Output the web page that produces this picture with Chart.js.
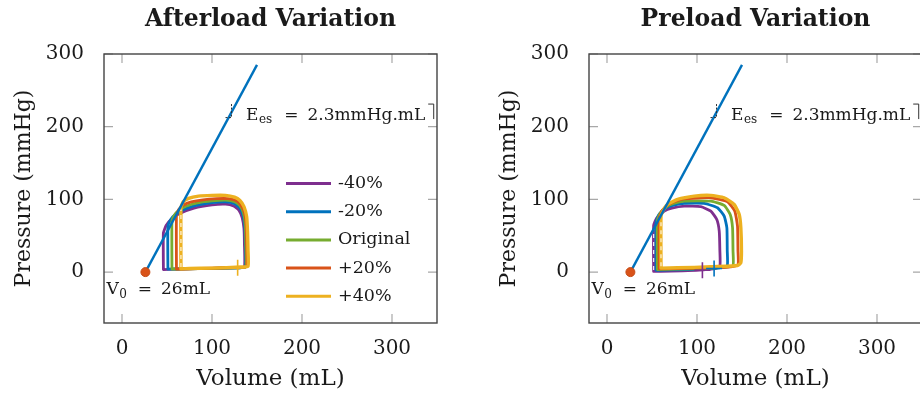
<!DOCTYPE html>
<html>
<head>
<meta charset="utf-8">
<script src="https://cdn.jsdelivr.net/npm/chart.js@4.4.1/dist/chart.umd.min.js"></script>
<style>
  html, body { margin: 0; padding: 0; overflow: hidden; background: #fff; }
  .panel { position: absolute; top: 0; width: 460px; height: 396px; }
</style>
</head>
<body>
<div class="panel" style="left:0"><canvas id="afterload"></canvas></div>
<div class="panel" style="left:485px"><canvas id="preload"></canvas></div>
<script>
// --- 1. Data ---

const seriesLabels = ["-40%", "-20%", "Original", "+20%", "+40%"];
const seriesColors = ["#7E2F8E", "#0072BD", "#77AC30", "#D95319", "#EDB120"];

const xTicks = [0, 100, 200, 300];
const yTicks = [0, 100, 200, 300];
const xRange = [-20, 350];
const yRange = [-70, 300];

// ESPVR line and V0
const espvrV = [26, 150];
const espvrP = [0, 285];
const v0Volume = 26;
const eesAnchorV = 120;
const eesAnchorP = 216;

// Afterload variation loops (volume mL, pressure mmHg)
const aPurpleV = [46, 46, 49, 55, 64, 80, 100, 115, 124, 130, 133.5, 135.5, 136, 136, 128, 100, 70, 46];
const aPurpleP = [3.5, 54, 64, 73, 80.5, 88, 92.5, 93.5, 91, 85, 75, 60, 40, 7, 6, 5, 4.5, 3.5];
const aBlueV = [51, 51, 54, 59, 67, 80, 100, 115, 125, 131, 134.5, 136.5, 137, 137, 128, 100, 70, 51];
const aBlueP = [4, 63, 72, 79, 85, 91, 95.5, 96.5, 94, 88, 78, 62, 40, 7, 6, 5, 4.5, 4];
const aGreenV = [55.5, 55.5, 58, 63, 71, 85, 100, 115, 125, 131, 135, 137, 137.5, 137.5, 128, 100, 70, 55.5];
const aGreenP = [4, 70, 78, 85, 90.5, 95.5, 98, 99, 97, 91.5, 81, 64, 40, 7, 6, 5, 4.5, 4];
const aOrangeV = [60.5, 60.5, 63, 68, 77, 90, 105, 118, 127, 132, 136, 138, 138.5, 138.5, 130, 100, 75, 60.5];
const aOrangeP = [4, 78, 86, 92, 96.5, 99.5, 101, 101, 98, 92.5, 82, 64, 40, 7.5, 6.5, 5.5, 4.5, 4];
const aYellowV = [65.5, 65.5, 68, 74, 85, 100, 115, 125, 131, 135.5, 138.5, 139.5, 140, 140, 132, 100, 75, 65.5];
const aYellowP = [4.5, 89, 96.5, 101.5, 104.5, 105.5, 105.5, 103, 98.5, 90, 76, 55, 30, 8, 7, 5.5, 5, 4.5];

// Preload variation loops
const pPurpleV = [51.8, 51.8, 55, 63.6, 72, 85.8, 104.3, 115.4, 122, 124.7, 125.4, 125.4, 118, 90, 51.8];
const pPurpleP = [1, 64, 74, 84, 88, 90.8, 89.9, 83.9, 72.4, 56.4, 30, 8, 4.5, 2, 1];
const pBlueV = [54.5, 54.5, 57, 63.6, 72, 85.8, 108, 122.8, 130.2, 133.2, 133.6, 133.6, 125, 90, 54.5];
const pBlueP = [2.5, 68, 78, 87, 91.5, 94.5, 94.5, 88.5, 77, 61, 30, 9, 6, 3.5, 2.5];
const pGreenV = [56, 56, 59, 65.5, 74, 85.8, 115.4, 130.2, 136.9, 139.5, 140, 140, 130, 95, 56];
const pGreenP = [3.5, 71, 81, 89.5, 94.5, 97.7, 97.7, 91.7, 79.3, 61, 30, 9, 6.5, 4.5, 3.5];
const pOrangeV = [58, 58, 61, 67.3, 75, 85.8, 115.4, 133.9, 142, 145, 145.5, 145.5, 135, 100, 58];
const pOrangeP = [4.5, 74, 84, 92.2, 97, 100.9, 102.3, 96.7, 83.9, 63.3, 30, 10, 7, 5.5, 4.5];
const pYellowV = [60, 60, 63, 67.3, 78.4, 96.9, 115.4, 130.2, 141.3, 146.9, 148.7, 149.4, 148.7, 145, 115.4, 78.4, 60];
const pYellowP = [5.5, 77, 86, 93, 100, 104.5, 105.5, 102.3, 93, 79.3, 61, 28.9, 12.8, 9.1, 7.3, 5.9, 5.5];

// white dashed traces seen on some loop edges (pairs of end points)
const aDashV = [[65.5, 65.5]];
const aDashP = [[7, 86]];
const pDashV = [[60, 60], [51.8, 51.8]];
const pDashP = [[8, 74], [3, 60]];

// small "+" marks on the filling line
const aMarkV = [128.5];
const aMarkP = [6];
const aMarkColor = ["#EDB120"];
const pMarkV = [106, 119];
const pMarkP = [2.5, 5];
const pMarkColor = ["#7E2F8E", "#0072BD"];

// --- 2. Drawing helpers ---

const SERIF = "'DejaVu Serif', 'Liberation Serif', serif";
const INK = "#1a1a1a";
const TICK = 9;
Chart.defaults.font.family = SERIF;
Chart.defaults.color = INK;

const pts = (xs, ys) => xs.map((v, i) => ({ x: v, y: ys[i] }));

// write text made of pieces [text, size, dy, gapBefore]
function drawPieces(ctx, x, y, pieces) {
  let cx = x;
  pieces.forEach(([t, size, dy, gap]) => {
    cx += gap || 0;
    ctx.font = `${size}px ${SERIF}`;
    ctx.fillText(t, cx, y + dy);
    cx += ctx.measureText(t).width;
  });
  return cx;
}

const framePlugin = {
  id: "frame",
  afterDatasetsDraw(chart) {
    const { ctx, chartArea: a, scales: { x, y } } = chart;
    ctx.save();
    ctx.strokeStyle = "#a8a8a8";
    ctx.lineWidth = 1.2;
    ctx.beginPath();
    xTicks.forEach(v => {
      const px = x.getPixelForValue(v);
      ctx.moveTo(px, a.top); ctx.lineTo(px, a.top + TICK);
      ctx.moveTo(px, a.bottom); ctx.lineTo(px, a.bottom - TICK);
    });
    yTicks.forEach(v => {
      const py = y.getPixelForValue(v);
      ctx.moveTo(a.left, py); ctx.lineTo(a.left + TICK, py);
      ctx.moveTo(a.right, py); ctx.lineTo(a.right - TICK, py);
    });
    ctx.stroke();
    ctx.strokeStyle = "#444";
    ctx.lineWidth = 1.4;
    ctx.strokeRect(a.left, a.top, a.right - a.left, a.bottom - a.top);
    ctx.restore();
  }
};

const notesPlugin = {
  id: "notes",
  afterDraw(chart, args, opts) {
    const { ctx, chartArea: a, scales: { x, y } } = chart;
    ctx.save();
    ctx.fillStyle = INK;

    // title centred over the plot area
    ctx.font = `bold 23.5px ${SERIF}`;
    ctx.textAlign = "center";
    ctx.textBaseline = "middle";
    ctx.fillText(opts.title, (a.left + a.right) / 2, 20);

    ctx.textAlign = "left";
    ctx.textBaseline = "alphabetic";

    // V0 label
    const vx = x.getPixelForValue(v0Volume), vy = y.getPixelForValue(0);
    drawPieces(ctx, vx - 39, vy + 22, [["V", 17, 0], ["0", 12, 3.5, 0.5], ["=", 17, 0, 11], ["26mL", 17, 0, 9]]);

    // Ees label
    const ex = x.getPixelForValue(eesAnchorV), ey = y.getPixelForValue(eesAnchorP);
    const end = drawPieces(ctx, ex + 16, ey + 4.5, [["E", 17, 0], ["es", 12, 3, 0.5], ["=", 17, 0, 12], ["2.3mmHg.mL", 17, 0, 9]]);
    ctx.strokeStyle = "#333";
    ctx.lineWidth = 1;
    ctx.setLineDash([2, 1.5]);
    ctx.beginPath();
    ctx.moveTo(ex - 4.5, ey + 2.5); ctx.lineTo(ex + 1.5, ey + 2.5); ctx.lineTo(ex + 1.5, ey - 12.5);
    ctx.stroke();
    ctx.setLineDash([]);
    ctx.beginPath();
    ctx.moveTo(end + 3, ey - 11); ctx.lineTo(end + 8.5, ey - 11); ctx.lineTo(end + 8.5, ey + 4);
    ctx.stroke();

    // legend
    if (opts.legend) {
      ctx.textBaseline = "middle";
      ctx.font = `17.5px ${SERIF}`;
      seriesLabels.forEach((lab, i) => {
        const ly = a.top + 129.5 + i * 28.2;
        ctx.strokeStyle = seriesColors[i];
        ctx.lineWidth = 3;
        ctx.beginPath();
        ctx.moveTo(a.left + 182, ly); ctx.lineTo(a.left + 227, ly);
        ctx.stroke();
        ctx.fillText(lab, a.left + 234, ly);
      });
    }
    ctx.restore();
  }
};

// --- 3. Chart setup ---

function makeChart(id, title, loopsV, loopsP, dashV, dashP, markV, markP, markColor, legend) {
  const datasets = [
    { data: pts([v0Volume], [0]), showLine: false, pointRadius: 4.5,
      pointBackgroundColor: "#D95319", pointBorderColor: "#C44A15", pointBorderWidth: 1, order: 1 },
    { data: pts(espvrV, espvrP), showLine: true, borderColor: "#0072BD", borderWidth: 2.4,
      pointRadius: 0, order: 2 },
    { data: pts(markV, markP), showLine: false, pointStyle: "cross", pointRadius: 8,
      pointBorderWidth: 1.6, pointBorderColor: markColor, order: 3 }
  ];
  dashV.forEach((vs, i) => {
    datasets.push({ data: pts(vs, dashP[i]), showLine: true, borderColor: "rgba(255,255,255,0.9)",
      borderWidth: 1.2, borderDash: [4, 4], pointRadius: 0, order: 4 });
  });
  loopsV.forEach((vs, i) => {
    datasets.push({
      label: seriesLabels[i],
      data: pts(vs, loopsP[i]),
      showLine: true,
      borderColor: seriesColors[i],
      borderWidth: i === 4 ? 3.4 : 2.8,
      borderJoinStyle: "round",
      borderCapStyle: "round",
      tension: 0.15,
      pointRadius: 0,
      order: 10 - i
    });
  });

  return new Chart(document.getElementById(id), {
    type: "scatter",
    data: { datasets },
    plugins: [framePlugin, notesPlugin],
    options: {
      responsive: true,
      maintainAspectRatio: false,
      animation: false,
      devicePixelRatio: 1,
      layout: { padding: { top: 54, right: 23, left: 0, bottom: 0 } },
      plugins: {
        legend: { display: false },
        tooltip: { enabled: false },
        notes: { title, legend }
      },
      scales: {
        x: {
          type: "linear", min: xRange[0], max: xRange[1],
          grid: { display: false }, border: { display: false },
          afterBuildTicks: s => { s.ticks = xTicks.map(v => ({ value: v })); },
          afterFit: s => { s.height = 73; },
          ticks: { padding: 6, color: INK, font: { size: 20 }, autoSkip: false, maxRotation: 0 },
          title: { display: true, text: "Volume (mL)", color: INK, font: { size: 23 }, padding: { top: 0, bottom: 3 } }
        },
        y: {
          type: "linear", min: yRange[0], max: yRange[1],
          grid: { display: false }, border: { display: false },
          afterBuildTicks: s => { s.ticks = yTicks.map(v => ({ value: v })); },
          afterFit: s => { s.width = 104; },
          ticks: { padding: 12, color: INK, font: { size: 20 } },
          title: { display: true, text: "Pressure (mmHg)", color: INK, font: { size: 22 }, padding: { top: 11, bottom: 0 } }
        }
      }
    }
  });
}

makeChart("afterload", "Afterload Variation",
  [aPurpleV, aBlueV, aGreenV, aOrangeV, aYellowV],
  [aPurpleP, aBlueP, aGreenP, aOrangeP, aYellowP],
  aDashV, aDashP, aMarkV, aMarkP, aMarkColor, true);

makeChart("preload", "Preload Variation",
  [pPurpleV, pBlueV, pGreenV, pOrangeV, pYellowV],
  [pPurpleP, pBlueP, pGreenP, pOrangeP, pYellowP],
  pDashV, pDashP, pMarkV, pMarkP, pMarkColor, false);
</script>
</body>
</html>
